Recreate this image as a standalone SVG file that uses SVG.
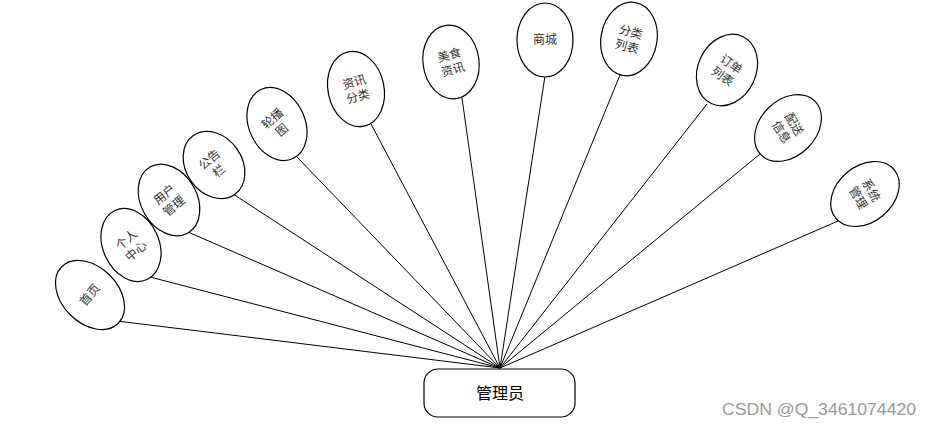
<svg xmlns="http://www.w3.org/2000/svg" width="932" height="428" viewBox="0 0 932 428">
<style>
.bg{fill:#ffffff}
.ell{fill:#ffffff;stroke:#000000;stroke-width:1.2}
.conn line{stroke:#000000;stroke-width:1}
.t{font-family:"Noto Sans CJK SC","Liberation Sans",sans-serif;font-size:12px;fill:#333333;text-anchor:middle}
.hub{fill:#ffffff;stroke:#000000;stroke-width:1.2}
.ht{font-family:"Noto Sans CJK SC","Liberation Sans",sans-serif;font-size:16px;fill:#000000;text-anchor:middle}
.wm{font-family:"Liberation Sans",sans-serif;font-size:16px;fill:#999999}
</style>
<rect class="bg" x="0" y="0" width="932" height="428"/>
<g id="connectors" class="conn">
<line x1="117" y1="321" x2="500" y2="368"/>
<line x1="150" y1="277" x2="500" y2="368"/>
<line x1="188" y1="232" x2="500" y2="368"/>
<line x1="233" y1="194" x2="500" y2="368"/>
<line x1="297" y1="157" x2="500" y2="368"/>
<line x1="371" y1="124" x2="500" y2="368"/>
<line x1="462" y1="98" x2="500" y2="368"/>
<line x1="545" y1="76" x2="500" y2="368"/>
<line x1="620" y1="75" x2="500" y2="368"/>
<line x1="707" y1="104" x2="500" y2="368"/>
<line x1="760" y1="154" x2="500" y2="368"/>
<line x1="838" y1="221" x2="500" y2="368"/>
</g>
<g id="n-shouye" transform="translate(90,295)">
<ellipse class="ell" rx="28" ry="40" transform="rotate(-45)"/>
<text class="t" transform="rotate(-50)" y="4">首页</text>
</g>
<g id="n-gerenzhongxin" transform="translate(131,245)">
<ellipse class="ell" rx="28" ry="38" transform="rotate(-25)"/>
<text class="t" transform="rotate(-40)"><tspan x="0" y="-3">个人</tspan><tspan x="0" y="12">中心</tspan></text>
</g>
<g id="n-yonghuguanli" transform="translate(169,200)">
<ellipse class="ell" rx="28" ry="38" transform="rotate(-30)"/>
<text class="t" transform="rotate(-40)"><tspan x="0" y="-3">用户</tspan><tspan x="0" y="12">管理</tspan></text>
</g>
<g id="n-gonggaolan" transform="translate(214,165)">
<ellipse class="ell" rx="28" ry="36" transform="rotate(-35)"/>
<text class="t" transform="rotate(-40)"><tspan x="0" y="-3">公告</tspan><tspan x="0" y="12">栏</tspan></text>
</g>
<g id="n-lunbotu" transform="translate(277,124)">
<ellipse class="ell" rx="28" ry="38" transform="rotate(-25)"/>
<text class="t" transform="rotate(-40)"><tspan x="0" y="-3">轮播</tspan><tspan x="0" y="12">图</tspan></text>
</g>
<g id="n-zixunfenlei" transform="translate(356,89)">
<ellipse class="ell" rx="28" ry="38" transform="rotate(-12)"/>
<text class="t" transform="rotate(-15)"><tspan x="0" y="-3">资讯</tspan><tspan x="0" y="12">分类</tspan></text>
</g>
<g id="n-meishizixun" transform="translate(451,62)">
<ellipse class="ell" rx="28" ry="37" transform="rotate(-8)"/>
<text class="t" transform="rotate(-15)"><tspan x="0" y="-3">美食</tspan><tspan x="0" y="12">资讯</tspan></text>
</g>
<g id="n-shangcheng" transform="translate(545,40)">
<ellipse class="ell" rx="28" ry="37"/>
<text class="t" y="4" fill="#000">商城</text>
</g>
<g id="n-fenleiliebiao" transform="translate(629,39)">
<ellipse class="ell" rx="28" ry="37" transform="rotate(10)"/>
<text class="t" transform="rotate(15)"><tspan x="0" y="-3">分类</tspan><tspan x="0" y="12">列表</tspan></text>
</g>
<g id="n-dingdanliebiao" transform="translate(727,70)">
<ellipse class="ell" rx="29" ry="37" transform="rotate(25)"/>
<text class="t" transform="rotate(35)"><tspan x="0" y="-3">订单</tspan><tspan x="0" y="12">列表</tspan></text>
</g>
<g id="n-peisongxinxi" transform="translate(788,128)">
<ellipse class="ell" rx="28" ry="38" transform="rotate(45)"/>
<text class="t" transform="rotate(58)"><tspan x="0" y="-3">配送</tspan><tspan x="0" y="12">信息</tspan></text>
</g>
<g id="n-xitongguanli" transform="translate(865,194)">
<ellipse class="ell" rx="28" ry="38" transform="rotate(50)"/>
<text class="t" transform="rotate(60)"><tspan x="0" y="-3">系统</tspan><tspan x="0" y="12">管理</tspan></text>
</g>
<g id="n-guanliyuan">
<rect class="hub" x="424" y="369" width="151" height="48" rx="14" ry="14"/>
<text class="ht" x="500" y="399">管理员</text>
</g>
<text class="wm" x="722" y="415" textLength="194" lengthAdjust="spacingAndGlyphs">CSDN @Q_3461074420</text>
</svg>
